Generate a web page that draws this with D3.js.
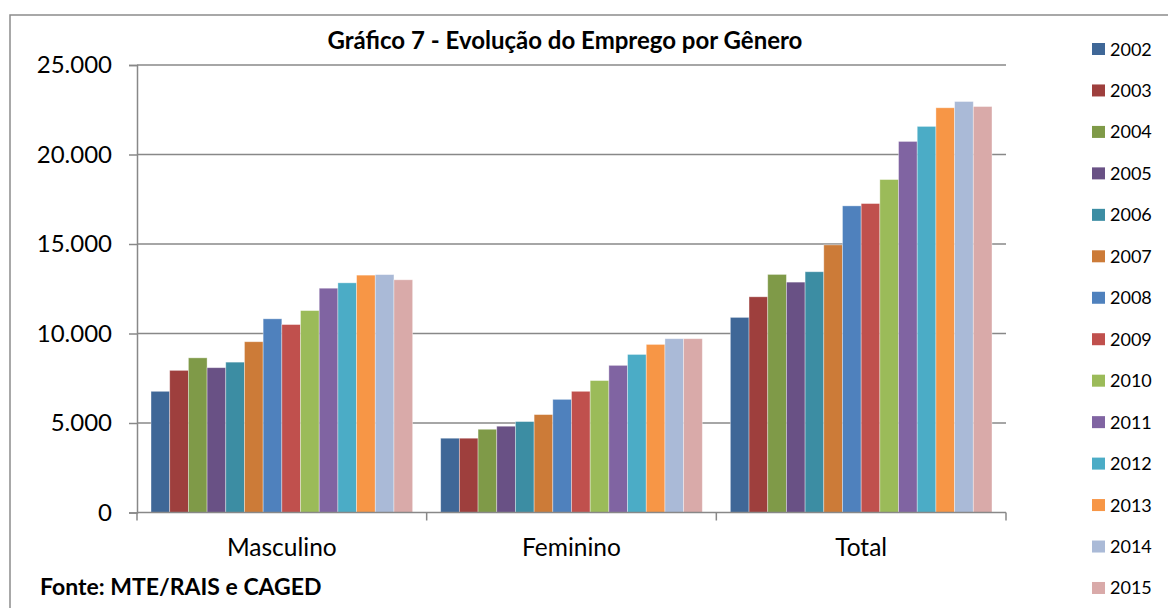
<!DOCTYPE html>
<html lang="pt">
<head>
<meta charset="utf-8">
<title>Gráfico 7 - Evolução do Emprego por Gênero</title>
<script src="https://cdn.jsdelivr.net/npm/d3@7"></script>
<style>
  body { margin: 0; background: #fff; }
  svg { display: block; font-family: Lato, "Open Sans", sans-serif; }
</style>
</head>
<body>
<script>
// data
var categories = ["Masculino", "Feminino", "Total"];
var years = ["2002", "2003", "2004", "2005", "2006", "2007", "2008",
             "2009", "2010", "2011", "2012", "2013", "2014", "2015"];
var masculino = [6770, 7940, 8640, 8090, 8400, 9540, 10820, 10500, 11280, 12530, 12830, 13260, 13290, 13000];
var feminino  = [4150, 4150, 4650, 4820, 5080, 5470, 6320, 6770, 7370, 8220, 8830, 9390, 9710, 9710];
var total     = [10900, 12050, 13300, 12870, 13450, 14950, 17130, 17260, 18600, 20730, 21570, 22610, 22960, 22680];
var yTicks = [0, 5000, 10000, 15000, 20000, 25000];
var colors = ["#3f6797", "#9e3f3d", "#7f9a48", "#695185", "#3c8da3", "#cc7b38", "#4f81bd",
              "#c0504d", "#9bbb59", "#8064a2", "#4bacc6", "#f79646", "#aabad7", "#d9aaa9"];

var series = [masculino, feminino, total];

var w = 1168, h = 608;
var plotLeft = 137, plotRight = 1006, plotTop = 65, plotBottom = 512.5;

var svg = d3.select("body").append("svg")
    .attr("width", w)
    .attr("height", h);

// chart frame (only top and left edges show in the crop)
svg.append("path")
    .attr("d", "M10," + h + "V15H" + w)
    .attr("fill", "none")
    .attr("stroke", "#8c8c8c")
    .attr("stroke-width", 1.5);

var x0 = d3.scaleBand()
    .domain(categories)
    .range([plotLeft, plotRight])
    .padding(0);

var x1 = d3.scaleBand()
    .domain(years)
    .range([0, x0.bandwidth()])
    .paddingInner(0)
    .paddingOuter(0.75);

var y = d3.scaleLinear()
    .domain([0, 25000])
    .range([plotBottom, plotTop]);

var color = d3.scaleOrdinal().domain(years).range(colors);

var br = d3.formatLocale({ decimal: ",", thousands: ".", grouping: [3], currency: ["R$", ""] });
var fmt = br.format(",d");

// gridlines
svg.append("g")
    .selectAll("line")
    .data(yTicks.filter(function(d) { return d > 0; }))
    .enter()
    .append("line")
    .attr("x1", plotLeft)
    .attr("x2", plotRight)
    .attr("y1", function(d) { return y(d); })
    .attr("y2", function(d) { return y(d); })
    .attr("stroke", "#888")
    .attr("stroke-width", 1.5);

// bars
var rows = categories.map(function(c, ci) {
    return years.map(function(yr, yi) {
        return { cat: c, year: yr, value: series[ci][yi] };
    });
});

svg.append("g")
    .selectAll("g")
    .data(rows)
    .enter()
    .append("g")
    .attr("transform", function(d, i) { return "translate(" + x0(categories[i]) + ",0)"; })
    .selectAll("rect")
    .data(function(d) { return d; })
    .enter()
    .append("rect")
    .attr("x", function(d) { return x1(d.year); })
    .attr("y", function(d) { return y(d.value); })
    .attr("width", x1.bandwidth())
    .attr("height", function(d) { return y(0) - y(d.value); })
    .attr("fill", function(d) { return color(d.year); })
    .attr("stroke", "#fff")
    .attr("stroke-opacity", 0.45)
    .attr("stroke-width", 0.8);

// y axis
var yAxis = d3.axisLeft(y)
    .tickValues(yTicks)
    .tickFormat(fmt)
    .tickSize(8)
    .tickPadding(17);

var gy = svg.append("g")
    .attr("transform", "translate(" + plotLeft + ",0)")
    .call(yAxis);
gy.select(".domain").attr("stroke", "#888").attr("stroke-width", 1.5);
gy.selectAll(".tick line").attr("stroke", "#888").attr("stroke-width", 1.5);
gy.selectAll(".tick text")
    .attr("font-family", "Lato, sans-serif")
    .attr("font-size", "24px")
    .attr("fill", "#000");

// x axis: ticks at the category boundaries, labels in the middle
var xAxis = svg.append("g").attr("transform", "translate(0," + plotBottom + ")");
xAxis.append("line")
    .attr("x1", plotLeft).attr("x2", plotRight)
    .attr("stroke", "#888").attr("stroke-width", 1.5);
xAxis.selectAll("line.tk")
    .data(categories.concat(["end"]))
    .enter()
    .append("line")
    .attr("class", "tk")
    .attr("x1", function(d, i) { return i < categories.length ? x0(d) : plotRight; })
    .attr("x2", function(d, i) { return i < categories.length ? x0(d) : plotRight; })
    .attr("y1", 0)
    .attr("y2", 8)
    .attr("stroke", "#888")
    .attr("stroke-width", 1.5);
xAxis.selectAll("text")
    .data(categories)
    .enter()
    .append("text")
    .attr("x", function(d) { return x0(d) + x0.bandwidth() / 2; })
    .attr("y", 43)
    .attr("text-anchor", "middle")
    .attr("font-size", "24.5px")
    .attr("fill", "#000")
    .text(function(d) { return d; });

// title
svg.append("text")
    .attr("x", 565)
    .attr("y", 49)
    .attr("text-anchor", "middle")
    .attr("font-size", "24px")
    .attr("font-weight", "bold")
    .attr("fill", "#000")
    .text("Gráfico 7 - Evolução do Emprego por Gênero");

// source
svg.append("text")
    .attr("x", 40)
    .attr("y", 595)
    .attr("font-size", "23px")
    .attr("font-weight", "bold")
    .attr("fill", "#000")
    .text("Fonte: MTE/RAIS e CAGED");

// legend
var legend = svg.append("g")
    .selectAll("g")
    .data(years)
    .enter()
    .append("g")
    .attr("transform", function(d, i) { return "translate(1092," + (49 + i * 41.46) + ")"; });

legend.append("rect")
    .attr("x", 0)
    .attr("y", -6)
    .attr("width", 13)
    .attr("height", 12)
    .attr("fill", function(d) { return color(d); });

legend.append("text")
    .attr("x", 18)
    .attr("y", 6.5)
    .attr("font-size", "18px")
    .attr("fill", "#000")
    .text(function(d) { return d; });
</script>
</body>
</html>
